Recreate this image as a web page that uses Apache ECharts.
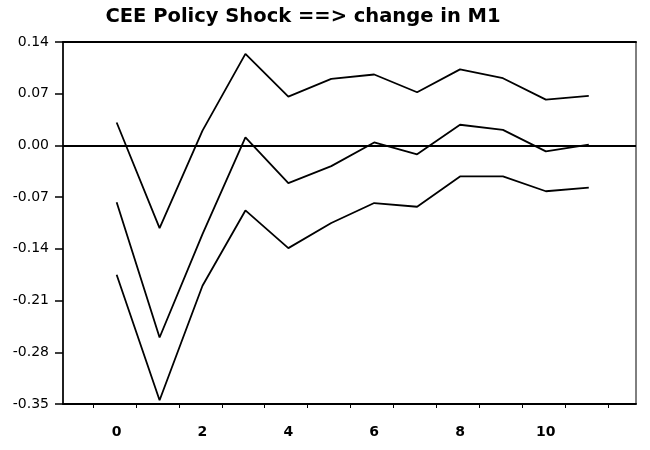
<!DOCTYPE html>
<html>
<head>
<meta charset="utf-8">
<script src="https://cdn.jsdelivr.net/npm/echarts@6/dist/echarts.min.js"></script>
<style>
  html, body { margin: 0; padding: 0; background: #fff; }
  #chart { width: 650px; height: 450px; }
</style>
</head>
<body>
<div id="chart"></div>
<script>
// horizon (steps after the shock)
var steps = [0, 1, 2, 3, 4, 5, 6, 7, 8, 9, 10, 11]
// upper band, point estimate, lower band
var upperBand = [0.031, -0.112, 0.02, 0.124, 0.066, 0.09, 0.096, 0.072, 0.103, 0.091, 0.062, 0.067]
var response = [-0.077, -0.26, -0.12, 0.011, -0.051, -0.028, 0.004, -0.012, 0.028, 0.021, -0.008, 0.001]
var lowerBand = [-0.175, -0.345, -0.19, -0.088, -0.139, -0.105, -0.078, -0.083, -0.042, -0.042, -0.062, -0.057]
// axis labels / ticks
var xLabels = [0, 2, 4, 6, 8, 10]
var xTicks = [-0.55, 0.45, 1.45, 2.45, 3.45, 4.45, 5.45, 6.45, 7.45, 8.45, 9.45, 10.45, 11.45]

function pairs(arr) {
  return arr.map(function (v, i) { return [steps[i], v] })
}

var chart = echarts.init(document.getElementById('chart'))
var lineStyle = { color: '#000', width: 1.8 }

chart.setOption({
  animation: false,
  title: {
    text: 'CEE Policy Shock ==> change in M1',
    left: 298,
    textAlign: 'center',
    top: 2,
    textStyle: {
      fontFamily: 'DejaVu Sans',
      fontWeight: 'bold',
      fontSize: 19.5,
      color: '#000'
    }
  },
  grid: {
    left: 63,
    right: 14,
    top: 42,
    bottom: 46,
    show: true,
    borderColor: '#000',
    borderWidth: 1
  },
  xAxis: [
    {
      type: 'value',
      min: -1.25,
      max: 12.1,
      splitLine: { show: false },
      axisLine: { onZero: false, lineStyle: { color: '#000', width: 2 } },
      axisTick: {
        customValues: xTicks,
        length: 4,
        lineStyle: { color: '#000', width: 1 }
      },
      axisLabel: {
        customValues: xLabels,
        margin: 21,
        color: '#000',
        fontFamily: 'DejaVu Sans',
        fontWeight: 'bold',
        fontSize: 14
      }
    },
    {
      // heavier top frame line
      type: 'value',
      position: 'top',
      min: -1.25,
      max: 12.1,
      splitLine: { show: false },
      axisLine: { onZero: false, lineStyle: { color: '#000', width: 2 } },
      axisTick: { show: false },
      axisLabel: { show: false }
    }
  ],
  yAxis: {
    type: 'value',
    min: -0.35,
    max: 0.14,
    interval: 0.07,
    splitLine: { show: false },
    axisLine: { onZero: false, lineStyle: { color: '#000', width: 1.5 } },
    axisTick: { length: 8, lineStyle: { color: '#000', width: 1.5 } },
    axisLabel: {
      margin: 14,
      color: '#000',
      fontFamily: 'DejaVu Sans',
      fontSize: 14,
      formatter: function (v) { return v.toFixed(2) }
    }
  },
  series: [
    {
      type: 'line',
      data: pairs(upperBand),
      showSymbol: false,
      lineStyle: lineStyle,
      markLine: {
        silent: true,
        symbol: 'none',
        label: { show: false },
        lineStyle: { color: '#000', width: 1.8, type: 'solid' },
        data: [{ yAxis: 0 }]
      }
    },
    { type: 'line', data: pairs(response), showSymbol: false, lineStyle: lineStyle },
    { type: 'line', data: pairs(lowerBand), showSymbol: false, lineStyle: lineStyle }
  ]
})
</script>
</body>
</html>
